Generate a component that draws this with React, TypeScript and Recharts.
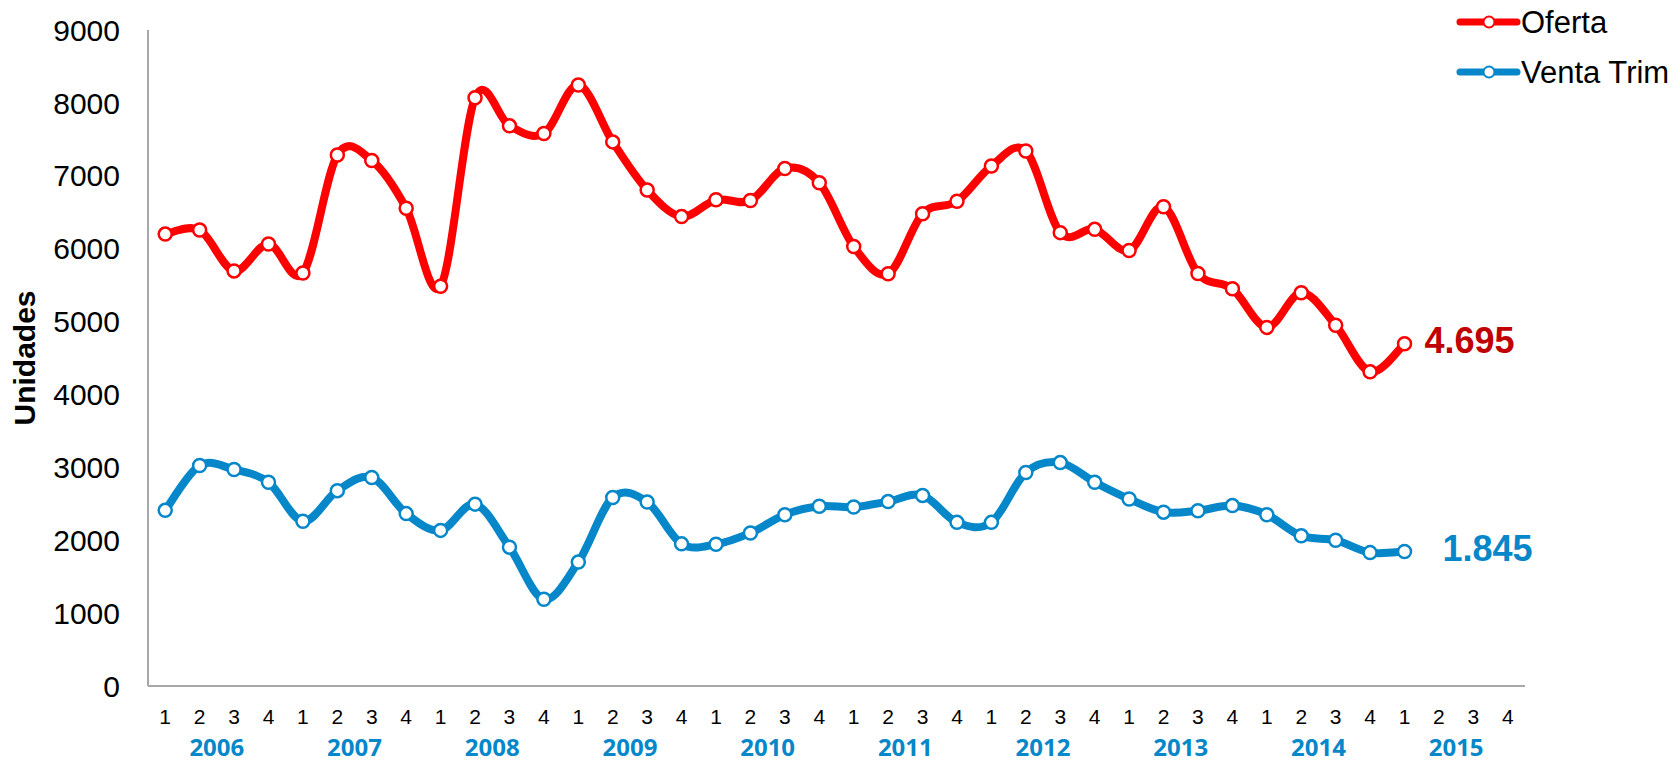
import React from 'react'
import { LineChart, Line, XAxis, YAxis, Legend } from 'recharts'

const years = ['2006', '2007', '2008', '2009', '2010', '2011', '2012', '2013', '2014', '2015']
const quarters = ['1', '2', '3', '4']
const yTicks = [0, 1000, 2000, 3000, 4000, 5000, 6000, 7000, 8000, 9000]

// 2006 T1 .. 2015 T1
const oferta = [
  6200, 6255, 5695, 6065, 5665, 7285, 7210, 6555, 5485, 8070, 7685, 7580,
  8245, 7465, 6805, 6440, 6670, 6660, 7100, 6905, 6030, 5655, 6480, 6650,
  7135, 7340, 6220, 6265, 5975, 6575, 5660, 5450, 4920, 5395, 4950, 4310, 4695
]
const ventaTrim = [
  2410, 3025, 2970, 2795, 2260, 2680, 2860, 2365, 2135, 2495, 1905, 1190,
  1700, 2585, 2525, 1950, 1945, 2100, 2350, 2465, 2455, 2530, 2615, 2245,
  2245, 2930, 3065, 2795, 2565, 2385, 2405, 2475, 2350, 2060, 2000, 1830, 1845
]

const RED = '#FF0000'
const BLUE = '#0587C9'
const FONT = '"Liberation Sans", Arial, sans-serif'
const BAND = (1525 - 148) / 40

const data = years.flatMap((y, yi) =>
  quarters.map((q, qi) => {
    const i = yi * 4 + qi
    return {
      key: `${y}-${q}`,
      oferta: i < oferta.length ? oferta[i] : null,
      venta: i < ventaTrim.length ? ventaTrim[i] : null
    }
  })
)

// smooth line through the points, like Excel's "smoothed line"
function smoothCurve(context: any) {
  let pts: number[][] = []
  return {
    areaStart() {},
    areaEnd() {},
    lineStart() {
      pts = []
    },
    lineEnd() {
      if (!pts.length) return
      context.moveTo(pts[0][0], pts[0][1])
      for (let i = 0; i < pts.length - 1; i++) {
        const p0 = pts[i - 1] || pts[i]
        const p1 = pts[i]
        const p2 = pts[i + 1]
        const p3 = pts[i + 2] || p2
        context.bezierCurveTo(
          p1[0] + (p2[0] - p0[0]) / 6,
          p1[1] + (p2[1] - p0[1]) / 6,
          p2[0] - (p3[0] - p1[0]) / 6,
          p2[1] - (p3[1] - p1[1]) / 6,
          p2[0],
          p2[1]
        )
      }
    },
    point(x: number, y: number) {
      pts.push([+x, +y])
    }
  }
}

const fmt = (v: number) =>
  `${Math.floor(v / 1000)}.${String(v % 1000).padStart(3, '0')}`

function endLabel(values: number[], color: string, dx: number) {
  return (props: any) => {
    const { x, y, index } = props
    if (index !== values.length - 1) return null
    return (
      <text
        x={x + dx}
        y={y - 3}
        fill={color}
        fontSize={36}
        fontWeight="bold"
        fontFamily={FONT}
        dominantBaseline="central"
      >
        {fmt(values[index])}
      </text>
    )
  }
}

function QuarterTick(props: any) {
  const { x, y, payload } = props
  const i = payload.index
  return (
    <g>
      <text
        x={x}
        y={y + 30}
        textAnchor="middle"
        dominantBaseline="central"
        fontSize={21}
        fontFamily={FONT}
        fill="#000"
      >
        {quarters[i % 4]}
      </text>
      {i % 4 === 1 && (
        <text
          x={x + BAND / 2}
          y={y + 70}
          textAnchor="middle"
          fontSize={24}
          fontWeight={700}
          fontFamily='"Open Sans", sans-serif'
          fill={BLUE}
        >
          {years[Math.floor(i / 4)]}
        </text>
      )}
    </g>
  )
}

const legendItems = [
  { name: 'Oferta', color: RED },
  { name: 'Venta Trim', color: BLUE }
]

function LegendBox() {
  return (
    <svg width={223} height={100} style={{ display: 'block', overflow: 'visible' }}>
      {legendItems.map((it, i) => {
        const cy = 22 + i * 50
        return (
          <g key={it.name}>
            <line x1={3} x2={60} y1={cy} y2={cy} stroke={it.color} strokeWidth={7} strokeLinecap="round" />
            <circle cx={32} cy={cy} r={5.5} fill="#fff" stroke={it.color} strokeWidth={2} />
            <text x={64} y={cy} fontSize={31} fontFamily={FONT} dominantBaseline="central" fill="#000">
              {it.name}
            </text>
          </g>
        )
      })}
    </svg>
  )
}

export default function App() {
  return (
    <div style={{ position: 'absolute', left: 0, top: 0, width: 1680, height: 764, background: '#fff' }}>
      <LineChart
        width={1680}
        height={764}
        data={data}
        margin={{ top: 30, right: 155, bottom: 0, left: 0 }}
      >
        <XAxis
          dataKey="key"
          interval={0}
          height={78}
          padding={{ left: BAND / 2, right: BAND / 2 }}
          tickSize={0}
          tickMargin={0}
          tickLine={false}
          axisLine={{ stroke: '#A8A8A8', strokeWidth: 2 }}
          tick={<QuarterTick />}
        />
        <YAxis
          width={148}
          domain={[0, 9000]}
          ticks={yTicks}
          interval={0}
          tickSize={0}
          tickMargin={28}
          tickLine={false}
          axisLine={{ stroke: '#A8A8A8', strokeWidth: 2 }}
          tick={{ fontSize: 30, fontFamily: FONT, fill: '#000' }}
          label={{
            content: (p: any) => {
              const vb = p.viewBox || { y: 30, height: 656 }
              const cy = vb.y + vb.height / 2
              return (
                <text
                  x={24}
                  y={cy}
                  transform={`rotate(-90, 24, ${cy})`}
                  textAnchor="middle"
                  dominantBaseline="central"
                  fontSize={30}
                  fontWeight="bold"
                  fontFamily={FONT}
                  fill="#000"
                >
                  Unidades
                </text>
              )
            }
          }}
        />
        <Legend
          layout="vertical"
          align="center"
          verticalAlign="middle"
          wrapperStyle={{ top: 0, left: 1457, width: 223 }}
          content={() => <LegendBox />}
        />
        <Line
          dataKey="oferta"
          name="Oferta"
          type={smoothCurve as any}
          stroke={RED}
          strokeWidth={8}
          dot={{ r: 6.5, fill: '#fff', stroke: RED, strokeWidth: 2.5 }}
          activeDot={false}
          label={endLabel(oferta, '#C00000', 20)}
          isAnimationActive={false}
        />
        <Line
          dataKey="venta"
          name="Venta Trim"
          type={smoothCurve as any}
          stroke={BLUE}
          strokeWidth={8}
          dot={{ r: 6.5, fill: '#fff', stroke: BLUE, strokeWidth: 2.5 }}
          activeDot={false}
          label={endLabel(ventaTrim, BLUE, 38)}
          isAnimationActive={false}
        />
      </LineChart>
    </div>
  )
}
